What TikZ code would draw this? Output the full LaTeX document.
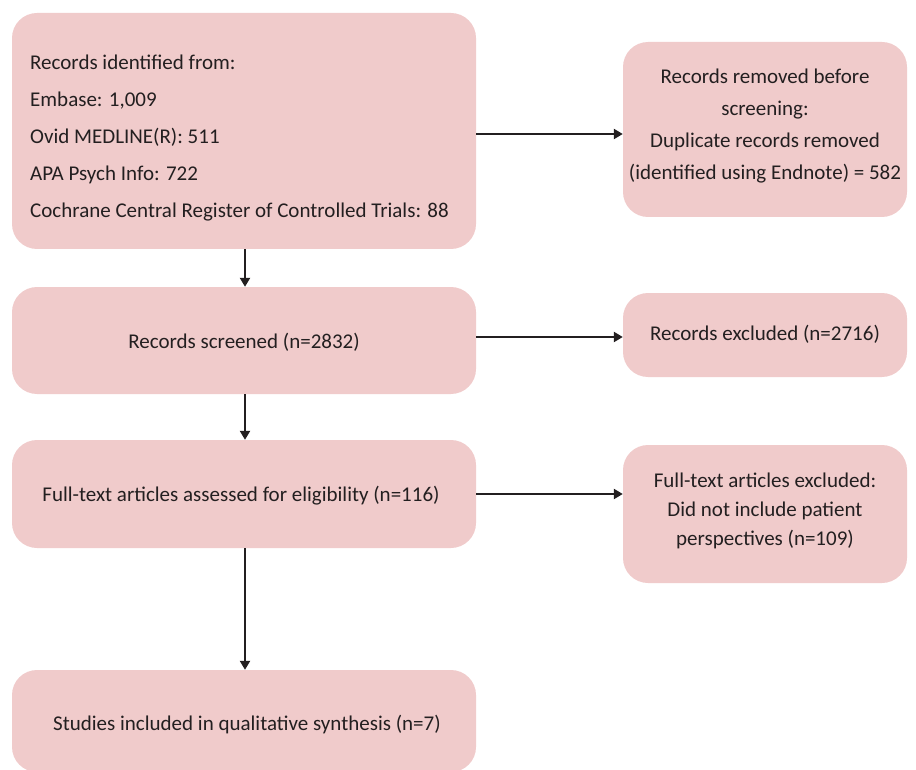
\documentclass[tikz,border=0pt]{standalone}
\usepackage{fontspec}
\setmainfont{Carlito}
\usetikzlibrary{arrows.meta}
\definecolor{boxfill}{HTML}{F0CBCB}
\definecolor{ink}{HTML}{231F20}
\begin{document}
\begin{tikzpicture}[x=1pt,y=-1pt,
  box/.style={draw=none, fill=boxfill, rounded corners=25pt, inner sep=0pt},
  txt/.style={inner sep=0pt, text=ink, align=center, font=\fontsize{21}{25}\selectfont},
  arr/.style={draw=ink, line width=2.2pt, -{Triangle[length=9pt,width=10pt]}}]
\useasboundingbox (0,0) rectangle (916,770);
\node[box, minimum width=464pt, minimum height=236pt] (b1) at (244,131) {};
\node[txt, align=left, anchor=west, font=\fontsize{21}{37}\selectfont] (t1) at (30,138)
  {Records identified from:\\Embase: 1,009\\Ovid MEDLINE(R): 511\\APA Psych Info: 722\\Cochrane Central Register of Controlled Trials: 88};
\node[box, minimum width=284pt, minimum height=175pt] (b2) at (765,129.5) {};
\node[txt, font=\fontsize{21}{32}\selectfont] (t2) at (765,126.5)
  {Records removed before\\screening:\\Duplicate records removed\\(identified using Endnote) = 582};
\node[box, minimum width=464pt, minimum height=107pt] (b3) at (244,340.5) {};
\node[txt] (t3) at (244,342.5) {Records screened (n=2832)};
\node[box, minimum width=284pt, minimum height=84pt] (b4) at (765,335) {};
\node[txt] (t4) at (765,334) {Records excluded (n=2716)};
\node[box, minimum width=464pt, minimum height=108pt] (b5) at (244,494) {};
\node[txt] (t5) at (241,496) {Full-text articles assessed for eligibility (n=116)};
\node[box, minimum width=284pt, minimum height=138pt] (b6) at (765,514) {};
\node[txt, font=\fontsize{21}{29}\selectfont] (t6) at (765,510.5)
  {Full-text articles excluded:\\Did not include patient\\perspectives (n=109)};
\node[box, minimum width=464pt, minimum height=102pt] (b7) at (244,721) {};
\node[txt] (t7) at (247,724.5) {Studies included in qualitative synthesis (n=7)};
\draw[arr] ([yshift=-3pt]b1.east) -- ([yshift=-3pt]b1.east -| b2.west);
\draw[arr] ([yshift=3.5pt]b3.east) -- ([yshift=3.5pt]b3.east -| b4.west);
\draw[arr] (b5.east) -- (b5.east -| b6.west);
\draw[arr] ([xshift=1pt]b1.south) -- ([xshift=1pt]b1.south |- b3.north);
\draw[arr] ([xshift=1pt]b3.south) -- ([xshift=1pt]b3.south |- b5.north);
\draw[arr] ([xshift=1pt]b5.south) -- ([xshift=1pt]b5.south |- b7.north);
\end{tikzpicture}
\end{document}
